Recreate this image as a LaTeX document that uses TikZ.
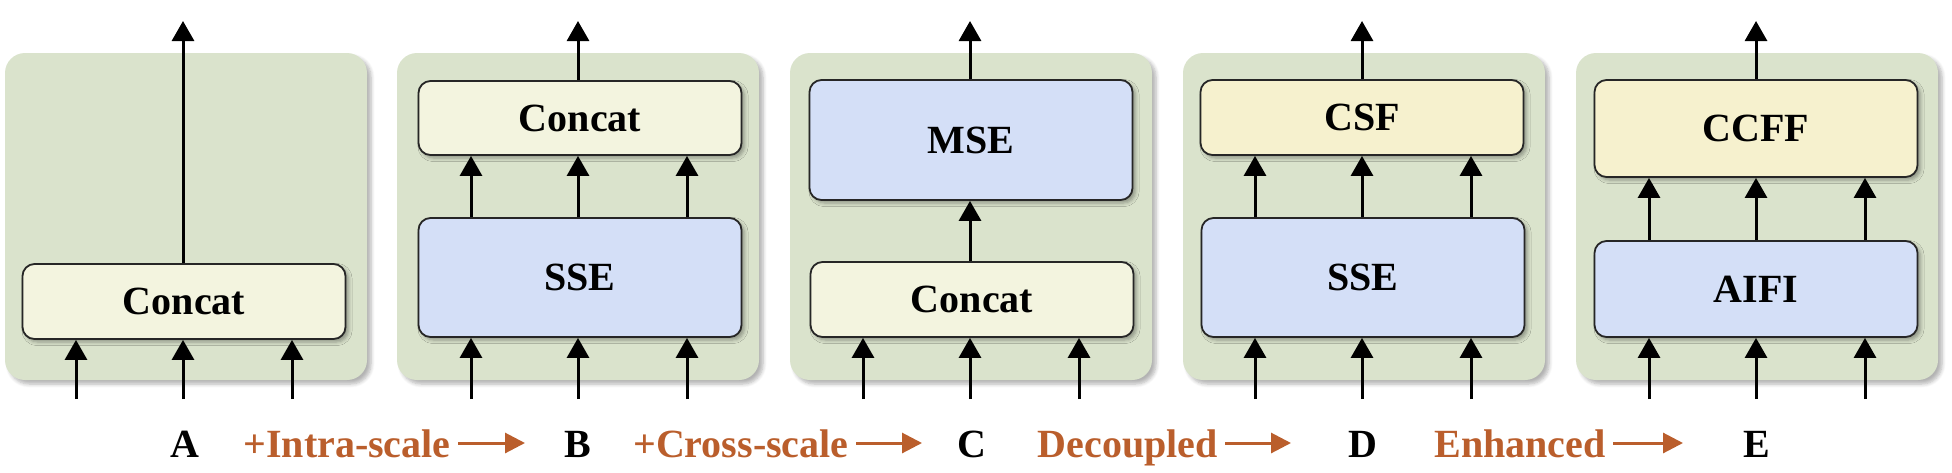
\documentclass[tikz,border=0pt]{standalone}
\usepackage{fontspec}
\setmainfont{Liberation Serif}
\usetikzlibrary{arrows.meta,shadows.blur}
\definecolor{panelgreen}{RGB}{218,227,204}
\definecolor{catfill}{RGB}{243,244,223}
\definecolor{fusefill}{RGB}{246,241,206}
\definecolor{encfill}{RGB}{212,223,247}
\definecolor{rust}{RGB}{186,94,44}
\tikzset{
  panel/.style={fill=panelgreen, rounded corners=10pt, minimum width=181pt, minimum height=163.5pt, inner sep=0pt,
    blur shadow={shadow xshift=2pt, shadow yshift=-2pt, shadow blur steps=6, shadow opacity=30}},
  blk/.style={draw=black!85, line width=0.9pt, rounded corners=6pt, minimum width=161.5pt, inner sep=0pt,
    font=\fontsize{20}{24}\selectfont\bfseries,
    blur shadow={shadow xshift=1.5pt, shadow yshift=-1.5pt, shadow blur steps=4, shadow opacity=35}},
  catbox/.style={blk, fill=catfill},
  fusebox/.style={blk, fill=fusefill},
  encbox/.style={blk, fill=encfill},
  flow/.style={line width=1.5pt, -{Triangle[width=11pt,length=10pt]}},
  tag/.style={font=\fontsize{20}{24}\selectfont\bfseries, anchor=base, inner sep=0pt},
  stage/.style={tag, text=rust, anchor=base east},
  stagearr/.style={draw=rust, line width=1.5pt, -{Triangle[width=10pt,length=10pt]}}
}
\begin{document}
\begin{tikzpicture}[x=0.5pt,y=-0.5pt,line join=round]
  \useasboundingbox (0,0) rectangle (1952,472);
  % panels
  \node[panel] (pA) at (186,216.5) {};
  \node[panel] (pB) at (578,216.5) {};
  \node[panel] (pC) at (971,216.5) {};
  \node[panel] (pD) at (1364,216.5) {};
  \node[panel] (pE) at (1757,216.5) {};
  % blocks
  \node[catbox, minimum height=37.5pt] (catA) at (184,301.5) {Concat};
  \node[catbox, minimum height=37pt] (catB) at (580,118) {Concat};
  \node[encbox, minimum height=59.5pt] (sseB) at (580,277.5) {SSE};
  \node[encbox, minimum height=60pt] (mseC) at (971,140) {MSE};
  \node[catbox, minimum height=37.5pt] (catC) at (972,299.5) {Concat};
  \node[fusebox, minimum height=37.5pt] (csfD) at (1362,117.5) {CSF};
  \node[encbox, minimum height=59.5pt] (sseD) at (1363,277.5) {SSE};
  \node[fusebox, minimum height=48.5pt] (ccffE) at (1756,128.5) {CCFF};
  \node[encbox, minimum height=48pt] (aifiE) at (1756,289) {AIFI};
  % inputs
  \foreach \p/\xc/\b in {A/183/catA, B/578/sseB, C/970/catC, D/1362/sseD, E/1756/aifiE}{
    \foreach \d [count=\k] in {-107,0,109}{
      \coordinate (in\p\k) at (\xc+\d,399);
      \draw[flow] (in\p\k) -- (in\p\k |- \b.south);
    }
    \coordinate (out\p) at (\xc,21);
  }
  % inner links
  \foreach \k in {1,2,3}{
    \draw[flow] (sseB.north -| inB\k) -- (catB.south -| inB\k);
    \draw[flow] (sseD.north -| inD\k) -- (csfD.south -| inD\k);
    \draw[flow] (aifiE.north -| inE\k) -- (ccffE.south -| inE\k);
  }
  \draw[flow] (catC.north -| inC2) -- (mseC.south -| inC2);
  % outputs
  \draw[flow] (catA.north -| outA) -- (outA);
  \draw[flow] (catB.north -| outB) -- (outB);
  \draw[flow] (mseC.north -| outC) -- (outC);
  \draw[flow] (csfD.north -| outD) -- (outD);
  \draw[flow] (ccffE.north -| outE) -- (outE);
  % bottom row
  \node[tag] (lA) at (185,457) {A};
  \node[tag] (lB) at (578,457) {B};
  \node[tag] (lC) at (972,457) {C};
  \node[tag] (lD) at (1363,457) {D};
  \node[tag] (lE) at (1757,457) {E};
  \node[stage] (s1) at (451,457) {+Intra-scale};
  \node[stage] (s2) at (849,457) {+Cross-scale};
  \node[stage] (s3) at (1218,457) {Decoupled};
  \node[stage] (s4) at (1606,457) {Enhanced};
  \coordinate (s1e) at (525,443);
  \coordinate (s2e) at (922,443);
  \coordinate (s3e) at (1291,443);
  \coordinate (s4e) at (1683,443);
  \foreach \i in {1,...,4}
    \draw[stagearr] ([xshift=3.5pt,yshift=7pt]s\i.base east) -- (s\i e);
\end{tikzpicture}
\end{document}
